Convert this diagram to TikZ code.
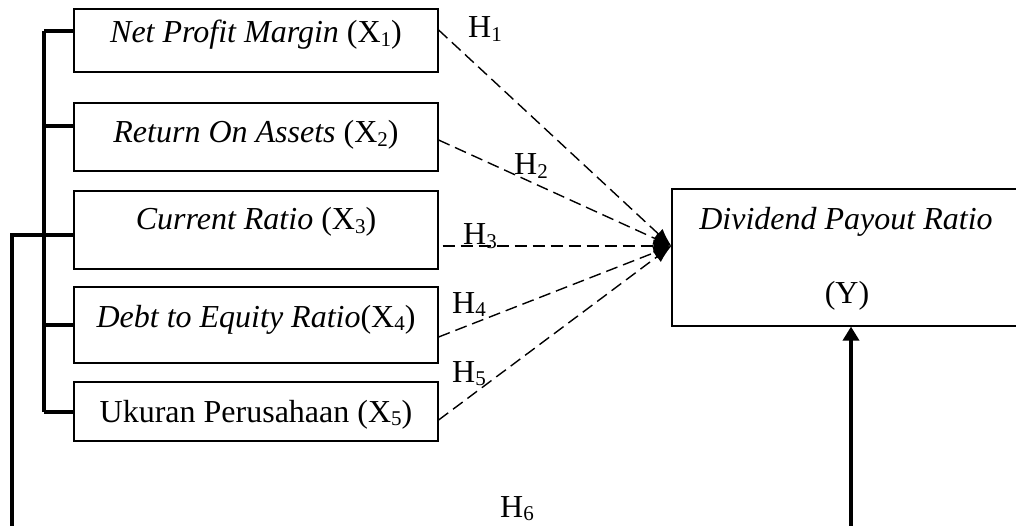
\documentclass[tikz,border=0pt]{standalone}
\usepackage{fontspec}
\setmainfont{Liberation Serif}
\usetikzlibrary{arrows.meta}
\newcommand\subs[1]{\raisebox{-0.12em}{\fontsize{21}{21}\selectfont #1}}
\begin{document}
\begin{tikzpicture}[x=1pt,y=-1pt,
  box/.style={draw, line width=1.2pt, inner sep=0pt, minimum width=364pt},
  ybox/.style={draw, line width=1.2pt, inner sep=0pt},
  txt/.style={inner sep=0pt, font=\fontsize{32}{38}\selectfont, anchor=base},
  hlab/.style={inner sep=0pt, font=\fontsize{32}{38}\selectfont, anchor=base west},
  thick line/.style={line width=3.4pt},
  hyp/.style={line width=1.4pt, dash pattern=on 12pt off 6pt, -{Latex[length=18pt,width=13pt]}}
]
\useasboundingbox (0,0) rectangle (1016,526);
\clip (0,0) rectangle (1016,526);
% boxes
\node[box, minimum height=63pt] (b1) at (256,40.5) {};
\node[box, minimum height=68pt] (b2) at (256,137) {};
\node[box, minimum height=78pt] (b3) at (256,230) {};
\node[box, minimum height=76pt] (b4) at (256,325) {};
\node[box, minimum height=59pt] (b5) at (256,411.5) {};
\node[ybox, minimum width=350pt, minimum height=137pt] (y) at (847,257.5) {};
% texts
\node[txt] (t1) at (256,43) {\textit{Net Profit Margin} (X\subs{1})};
\node[txt] (t2) at (256,143) {\textit{Return On Assets} (X\subs{2})};
\node[txt] (t3) at (256,230) {\textit{Current Ratio} (X\subs{3})};
\node[txt] (t4) at (256,327) {\textit{Debt to Equity Ratio}(X\subs{4})};
\node[txt] (t5) at (256,422) {Ukuran Perusahaan (X\subs{5})};
\node[txt] (ty1) at (846,230) {\textit{Dividend Payout Ratio}};
\node[txt] (ty2) at (847,303) {(Y)};
% hypothesis labels
\node[hlab] (h1) at (468,38) {H\subs{1}};
\node[hlab] (h2) at (514,175) {H\subs{2}};
\node[hlab] (h3) at (463,245) {H\subs{3}};
\node[hlab] (h4) at (452,313) {H\subs{4}};
\node[hlab] (h5) at (452,382) {H\subs{5}};
\node[hlab] (h6) at (500,517) {H\subs{6}};
% coordinates
\coordinate (tip) at (y.west |- 0,246);
\coordinate (s1) at (b1.east |- 0,30);
\coordinate (s2) at (b2.east |- 0,140);
\coordinate (s3) at (b3.east |- 0,246);
\coordinate (s4) at (b4.east |- 0,337);
\coordinate (s5) at (b5.east |- 0,420);
\coordinate (k1) at (44,31);
\coordinate (k5) at (44,412);
\coordinate (outer) at (12,235);
\coordinate (outerend) at (12,540);
\coordinate (yfoot) at (851,540);
% dashed hypotheses
\draw[hyp] (s1) -- (tip);
\draw[hyp] (s2) -- (tip);
\draw[hyp] ([xshift=4pt]s3) -- (tip);
\draw[hyp] (s4) -- (tip);
\draw[hyp] (s5) -- (tip);
% bracket
\draw[thick line] (k1) -- (k5);
\draw[thick line] (k1) -- (b1.west |- k1);
\draw[thick line] (44,126) -- (b2.west |- 0,126);
\draw[thick line] (44,325) -- (b4.west |- 0,325);
\draw[thick line] (k5) -- (b5.west |- k5);
\draw[thick line] (outerend) -- (outer) -- (b3.west |- outer);
% H6 arrow
\draw[line width=3.6pt, -{Triangle[length=14pt,width=16pt]}] (yfoot) -- (y.south -| yfoot);
\end{tikzpicture}
\end{document}
